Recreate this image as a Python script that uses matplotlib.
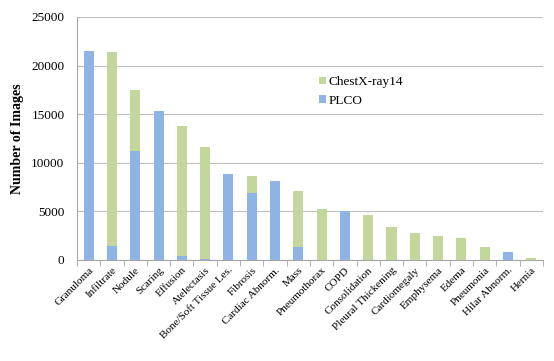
import matplotlib
matplotlib.use("Agg")
import matplotlib.pyplot as plt
import numpy as np

categories = ["Granuloma", "Infiltrate", "Nodule", "Scaring", "Effusion", "Atelectasis",
              "Bone/Soft Tissue Les.", "Fibrosis", "Cardiac Abnorm.", "Mass", "Pneumothorax",
              "COPD", "Consolidation", "Pleural Thickening", "Cardiomegaly", "Emphysema",
              "Edema", "Pneumonia", "Hilar Abnorm.", "Hernia"]
plco = [21480, 1470, 11200, 15290, 370, 80, 8820, 6880, 8150, 1280, 0,
        5000, 0, 0, 0, 0, 0, 0, 830, 0]
chestx = [0, 19930, 6320, 0, 13370, 11530, 0, 1740, 0, 5780, 5270,
          0, 4610, 3340, 2750, 2510, 2270, 1300, 0, 200]
yticks = [0, 5000, 10000, 15000, 20000, 25000]

plt.rcParams['font.family'] = ['Liberation Serif', 'DejaVu Serif']

blue = "#8EB4E3"
green = "#C3D69B"

fig = plt.figure(figsize=(5.54, 3.61), dpi=100)
ax = fig.add_axes([0.139, 0.280, 0.841, 0.673])

x = np.arange(len(categories))
w = 0.43
ax.bar(x, plco, width=w, color=blue, label="PLCO", zorder=3)
ax.bar(x, chestx, width=w, bottom=plco, color=green, label="ChestX-ray14", zorder=3)

ax.set_xlim(-0.5, len(categories) - 0.5)
ax.set_ylim(0, 25000)
ax.set_yticks(yticks)
ax.set_yticklabels([str(v) for v in yticks], fontsize=9.5)
ax.yaxis.grid(True, color="#BFBFBF", linewidth=0.8, zorder=0)
ax.tick_params(axis='y', length=0, pad=9)

ax.set_xticks(x)
ax.set_xticklabels(categories, rotation=45, ha='right', rotation_mode='anchor', fontsize=8)
ax.tick_params(axis='x', length=0, pad=4)
# minor ticks between categories
ax.set_xticks(np.arange(-0.5, len(categories) + 0.5, 1), minor=True)
ax.tick_params(axis='x', which='minor', length=4, color="#A6A6A6", direction='out')

for s in ['top', 'right']:
    ax.spines[s].set_visible(False)
ax.spines['left'].set_color("#A6A6A6")
ax.spines['bottom'].set_color("#A6A6A6")

ax.set_ylabel("Number of Images", fontsize=10, fontweight='bold', labelpad=5)

handles, labels = ax.get_legend_handles_labels()
ax.legend(handles[::-1], labels[::-1], loc='upper left', bbox_to_anchor=(0.5, 0.795),
          frameon=False, fontsize=9.5, handlelength=0.5, handleheight=0.5,
          handletextpad=0.2, labelspacing=0.5, borderpad=0.2)

fig.savefig("out.png", dpi=100)
